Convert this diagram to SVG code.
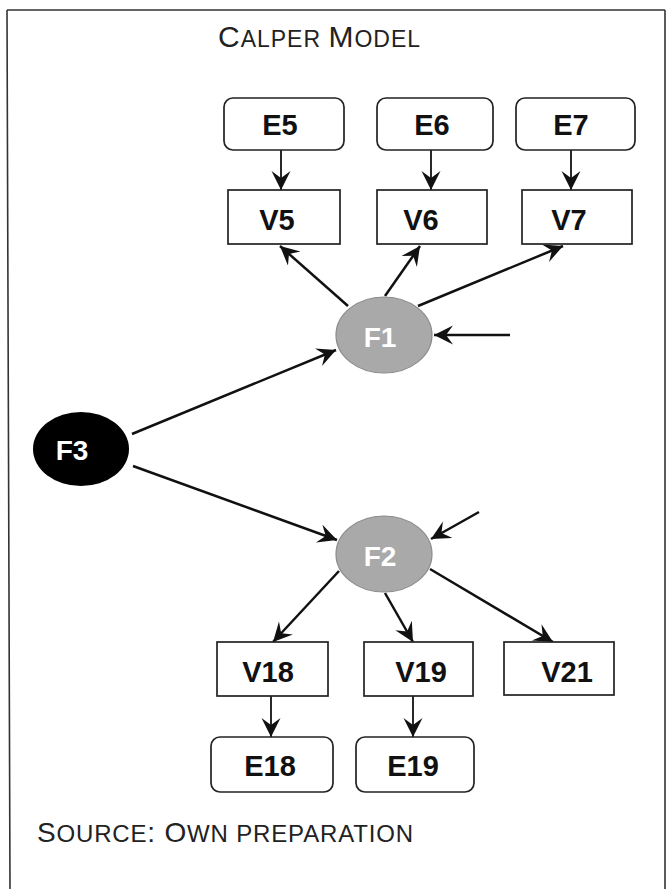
<svg xmlns="http://www.w3.org/2000/svg" width="667" height="889" viewBox="0 0 667 889">
<defs>
<marker id="arr" markerUnits="userSpaceOnUse" markerWidth="22" markerHeight="22" refX="19" refY="9.5" orient="auto">
<path d="M0,0 L19,9.5 L0,19 L7,9.5 Z" fill="#111"/>
</marker>
<style>
.box{fill:#fff;stroke:#222;stroke-width:1.7}
.lbl{font-family:"Liberation Sans",Arial,sans-serif;font-weight:bold;font-size:29px;fill:#111;text-anchor:middle}
.flbl{font-family:"Liberation Sans",Arial,sans-serif;font-weight:bold;font-size:28px;fill:#fff;text-anchor:middle}
.cap{font-family:"Liberation Sans",Arial,sans-serif;fill:#222}
.edge{stroke:#111;stroke-width:2.5;fill:none;marker-end:url(#arr)}
.edge2{stroke:#111;stroke-width:1.8;fill:none;marker-end:url(#arr)}
</style>
</defs>
<rect x="0" y="0" width="667" height="889" fill="#fff"/>
<path d="M7,10 L665,10 M7,10 L10,889 M665,10 L665,889" stroke="#333" stroke-width="1.6" fill="none"/>
<g id="title">
<text class="cap" x="218" y="47" textLength="202" lengthAdjust="spacing"><tspan font-size="30">C</tspan><tspan font-size="23">ALPER </tspan><tspan font-size="30">M</tspan><tspan font-size="23">ODEL</tspan></text>
</g>
<g id="connectors">
<line class="edge2" x1="281" y1="150" x2="281" y2="190"/>
<line class="edge2" x1="431" y1="150" x2="431" y2="190"/>
<line class="edge2" x1="571" y1="150" x2="571" y2="190"/>
<line class="edge" x1="348" y1="306" x2="280" y2="246"/>
<line class="edge" x1="385" y1="296" x2="420" y2="246"/>
<line class="edge" x1="418" y1="306" x2="563" y2="246"/>
<line class="edge" x1="510" y1="335" x2="434" y2="335"/>
<line class="edge" x1="132" y1="434" x2="336" y2="350"/>
<line class="edge" x1="133" y1="466" x2="337" y2="540"/>
<line class="edge" x1="479" y1="512" x2="431" y2="539"/>
<line class="edge" x1="339" y1="571" x2="273" y2="642"/>
<line class="edge" x1="385" y1="593" x2="413" y2="642"/>
<line class="edge" x1="430" y1="569" x2="553" y2="642"/>
<line class="edge2" x1="271" y1="696" x2="271" y2="737"/>
<line class="edge2" x1="413" y1="696" x2="413" y2="737"/>
</g>
<g id="E5"><rect class="box" x="224" y="98" width="120" height="52" rx="9"/><text class="lbl" x="280" y="135">E5</text></g>
<g id="E6"><rect class="box" x="377" y="98" width="116" height="52" rx="9"/><text class="lbl" x="432" y="135">E6</text></g>
<g id="E7"><rect class="box" x="516" y="98" width="119" height="52" rx="9"/><text class="lbl" x="571" y="135">E7</text></g>
<g id="V5"><rect class="box" x="228" y="190" width="112" height="54"/><text class="lbl" x="277" y="230">V5</text></g>
<g id="V6"><rect class="box" x="377" y="190" width="110" height="54"/><text class="lbl" x="421" y="230">V6</text></g>
<g id="V7"><rect class="box" x="522" y="190" width="110" height="54"/><text class="lbl" x="569" y="230">V7</text></g>
<g id="F1"><ellipse cx="384" cy="335" rx="48" ry="38" fill="#a9a9a9" stroke="#8a8a8a" stroke-width="1.2"/><text class="flbl" x="380" y="347">F1</text></g>
<g id="F3"><ellipse cx="81" cy="449" rx="48" ry="37" fill="#000"/><text class="flbl" x="72" y="460">F3</text></g>
<g id="F2"><ellipse cx="384" cy="554" rx="48" ry="38" fill="#a9a9a9" stroke="#8a8a8a" stroke-width="1.2"/><text class="flbl" x="380" y="566">F2</text></g>
<g id="V18"><rect class="box" x="217" y="642" width="111" height="54"/><text class="lbl" x="268" y="682">V18</text></g>
<g id="V19"><rect class="box" x="364" y="642" width="109" height="54"/><text class="lbl" x="421" y="682">V19</text></g>
<g id="V21"><rect class="box" x="504" y="642" width="110" height="53"/><text class="lbl" x="567" y="682">V21</text></g>
<g id="E18"><rect class="box" x="211" y="737" width="122" height="55" rx="9"/><text class="lbl" x="270" y="776">E18</text></g>
<g id="E19"><rect class="box" x="356" y="737" width="118" height="55" rx="9"/><text class="lbl" x="413" y="776">E19</text></g>
<g id="source">
<text class="cap" x="37" y="842" textLength="376" lengthAdjust="spacing"><tspan font-size="28">S</tspan><tspan font-size="24">OURCE</tspan><tspan font-size="28">: O</tspan><tspan font-size="24">WN PREPARATION</tspan></text>
</g>
</svg>
